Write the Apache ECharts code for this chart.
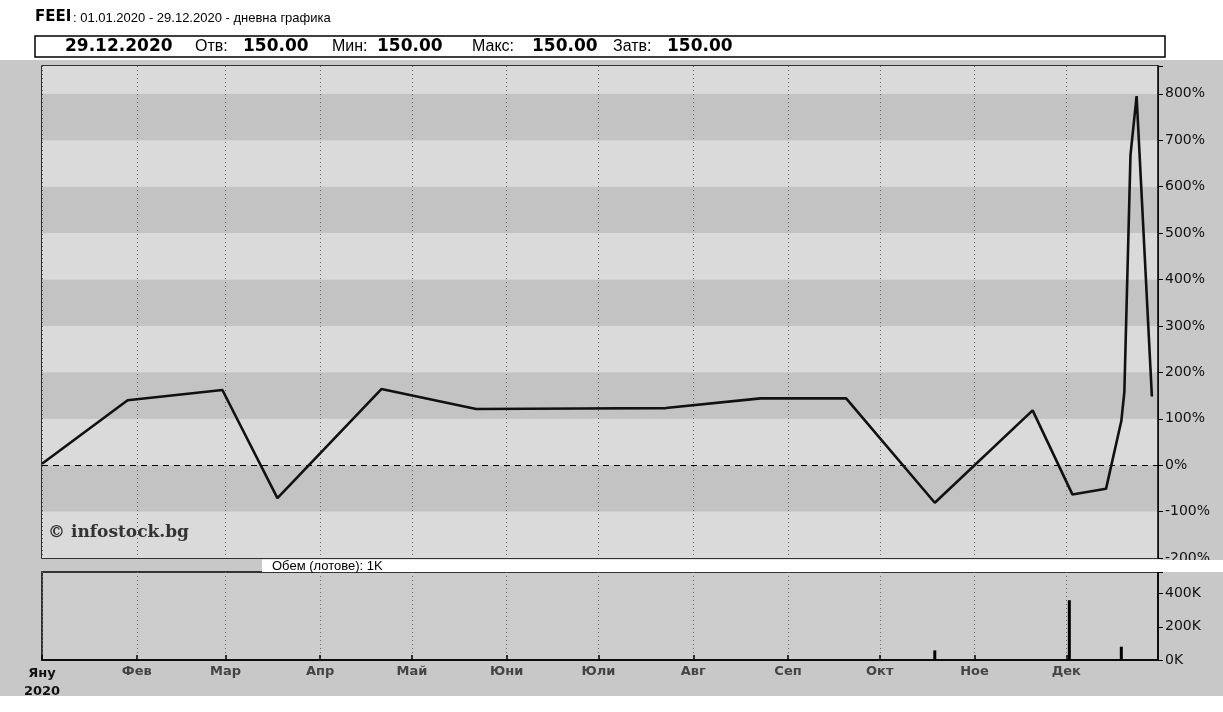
<!DOCTYPE html>
<html>
<head>
<meta charset="utf-8">
<script src="https://cdn.jsdelivr.net/npm/echarts@6/dist/echarts.min.js"></script>
<style>
html,body{margin:0;padding:0;background:#fff;}
#chart{width:1223px;height:712px;}
</style>
</head>
<body>
<div id="chart"></div>
<script>
// ---- data ----
const dates = ['2020-01-01','2020-01-29','2020-02-29','2020-03-18','2020-04-21','2020-05-22','2020-06-25','2020-07-23','2020-08-23','2020-09-20','2020-10-19','2020-11-20','2020-12-03','2020-12-14','2020-12-19','2020-12-20','2020-12-22','2020-12-24','2020-12-29'];
const changePct = [3, 140, 162, -71, 164, 121, 122, 123, 144, 144, -81, 118, -63, -51, 95, 158, 668, 795, 148];
const volDates = ['2020-10-19','2020-12-02','2020-12-19'];
const volValues = [58000, 360000, 80000];
const monthLabels = ['Яну','Фев','Мар','Апр','Май','Юни','Юли','Авг','Сеп','Окт','Ное','Дек'];
const yearLabel = '2020';
const pctTicks = [-200,-100,0,100,200,300,400,500,600,700,800];
const volTicks = [0,200000,400000];

function ts(s){const p=s.split('-').map(Number);return new Date(p[0],p[1]-1,p[2]).getTime();}
const monthStarts = monthLabels.map((m,i)=>new Date(2020,i,1).getTime());
const xMin = ts('2020-01-01');
const xMax = ts('2020-12-31');

const chart = echarts.init(document.getElementById('chart'));
const bold = 'DejaVu Sans';

const headerItems = [
  {x:65, t:'29.12.2020', b:true},
  {x:195, t:'Отв:', b:false},
  {x:243, t:'150.00', b:true},
  {x:332, t:'Мин:', b:false},
  {x:377, t:'150.00', b:true},
  {x:472, t:'Макс:', b:false},
  {x:532, t:'150.00', b:true},
  {x:613, t:'Затв:', b:false},
  {x:667, t:'150.00', b:true}
];

const graphics = [
  {type:'rect', z:-5, shape:{x:0,y:60,width:1223,height:636}, style:{fill:'#c8c8c8'}, silent:true},
  {type:'rect', z:50, shape:{x:35,y:36,width:1130,height:21}, style:{fill:'#fff', stroke:'#000', lineWidth:1.5}, silent:true},
  {type:'text', z:51, x:35, y:17, style:{text:'FEEI', font:'bold 15px "DejaVu Sans"', fill:'#000', verticalAlign:'middle'}},
  {type:'text', z:51, x:73, y:18, style:{text:': 01.01.2020 - 29.12.2020 - дневна графика', font:'13px "Liberation Sans"', fill:'#000', verticalAlign:'middle'}},
  {type:'rect', z:60, shape:{x:262,y:559.5,width:899,height:12.5}, style:{fill:'#fff'}, silent:true},
  {type:'rect', z:60, shape:{x:1161,y:560,width:62,height:12}, style:{fill:'#fff'}, silent:true},
  {type:'text', z:61, x:272, y:566, style:{text:'Обем (лотове): 1K', font:'13px "Liberation Sans"', fill:'#000', verticalAlign:'middle'}},
  {type:'text', z:20, x:48, y:533, style:{text:'© infostock.bg', font:'bold 17px "DejaVu Serif"', fill:'#333', verticalAlign:'middle'}}
];
headerItems.forEach(h=>{
  graphics.push({type:'text', z:52, x:h.x, y:47, style:{text:h.t, font:(h.b?'bold 17px "DejaVu Sans"':'16px "Liberation Sans"'), fill:'#000', verticalAlign:'middle'}});
});

const option = {
  animation:false,
  backgroundColor:'#fff',
  graphic: graphics,
  grid:[
    {left:42, right:65, top:66, bottom:154, show:true, borderColor:'#000', borderWidth:1.5, backgroundColor:'#d6d6d6'},
    {left:42, right:65, top:572, bottom:52, show:true, borderColor:'#000', borderWidth:1.5, backgroundColor:'#cdcdcd'}
  ],
  xAxis:[
    {type:'value', gridIndex:0, min:xMin, max:xMax,
     axisLine:{show:false}, axisLabel:{show:false},
     axisTick:{show:false, customValues:monthStarts},
     splitLine:{show:true, lineStyle:{color:'#666', type:[1,3], width:1}}},
    {type:'value', gridIndex:1, min:xMin, max:xMax,
     axisLine:{show:true, lineStyle:{color:'#000', width:1.5}},
     axisTick:{show:true, inside:true, length:5, customValues:monthStarts, lineStyle:{color:'#000', width:1.5}},
     axisLabel:{show:true, customValues:monthStarts, margin:5, color:'#444', fontFamily:bold, fontSize:13, fontWeight:'bold',
       formatter:function(v){const m=new Date(v).getMonth(); return m===0?('{y|'+monthLabels[0]+'}\n{y|'+yearLabel+'}'):monthLabels[m];},
       rich:{y:{color:'#111', fontFamily:bold, fontSize:13, fontWeight:'bold', lineHeight:18}}},
     splitLine:{show:true, lineStyle:{color:'#666', type:[1,3], width:1}}}
  ],
  yAxis:[
    {type:'value', gridIndex:0, position:'right', min:-200, max:860, interval:100,
     axisLine:{show:true, lineStyle:{color:'#000', width:1.5}},
     axisTick:{show:true, length:5, lineStyle:{color:'#000'}},
     axisLabel:{margin:7, color:'#111', fontFamily:bold, fontSize:14, customValues:pctTicks, formatter:function(v){return v+'%';}},
     splitLine:{show:false},
     splitArea:{show:true, areaStyle:{color:['#dadada','#c3c3c3']}}},
    {type:'value', gridIndex:1, position:'right', min:0, max:530000, interval:200000,
     axisLine:{show:true, lineStyle:{color:'#000', width:1.5}},
     axisTick:{show:true, length:5, lineStyle:{color:'#000'}},
     axisLabel:{margin:7, color:'#111', fontFamily:bold, fontSize:14, customValues:volTicks, formatter:function(v){return (v/1000)+'K';}},
     splitLine:{show:false}}
  ],
  series:[
    {type:'line', xAxisIndex:0, yAxisIndex:0, data:dates.map((d,i)=>[ts(d), changePct[i]]),
     symbol:'none', lineStyle:{color:'#111', width:2.6}, z:5,
     markLine:{silent:true, symbol:'none', label:{show:false}, lineStyle:{color:'#000', type:[6,5], width:1.2}, data:[{yAxis:0}]}},
    {type:'bar', xAxisIndex:1, yAxisIndex:1, data:volDates.map((d,i)=>[ts(d), volValues[i]]),
     barWidth:3, itemStyle:{color:'#000'}}
  ]
};
chart.setOption(option);
</script>
</body>
</html>
